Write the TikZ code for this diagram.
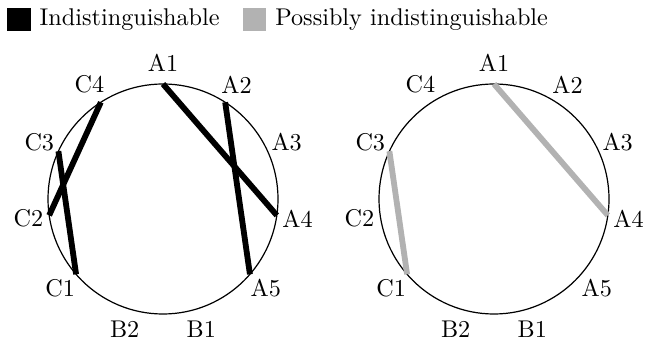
\documentclass[tikz,border=0pt]{standalone}
\usepackage{tikz}
\usetikzlibrary{positioning}
\definecolor{maybe}{gray}{0.7}
\tikzset{
  ring/.style={line width=0.5pt},
  sure/.style={line width=2.4pt, draw=black},
  unsure/.style={line width=2.4pt, draw=maybe},
  swatch/.style={minimum size=9.5pt, inner sep=0pt},
  keytext/.style={inner sep=0pt},
  ptlabel/.style={inner sep=0pt},
}
\begin{document}
\begin{tikzpicture}[x=0.413pt, y=0.413pt]
  \useasboundingbox (0,0) rectangle (650,346);
  % legend
  \node[swatch, fill=black] (key1) at (19,326) {};
  \node[keytext, right=3.4pt of key1] (txt1) {Indistinguishable};
  \node[swatch, fill=maybe, right=9.3pt of txt1] (key2) {};
  \node[keytext, right=3.4pt of key2] (txt2) {Possibly indistinguishable};
  % the two rings, eleven points each
  \foreach \side/\cx in {L/163, R/494} {
    \draw[ring] (\cx,147) circle (115);
    \foreach \lab [count=\i from 0] in {A1,A2,A3,A4,A5,B1,B2,C1,C2,C3,C4} {
      \pgfmathsetmacro{\ang}{90-360/11*\i}
      \coordinate (\side-\lab) at ([shift={(\cx,147)}]\ang:115);
      \node[ptlabel] (\side-\lab-t) at ([shift={(\cx,147)}]\ang:136) {\lab};
    }
  }
  % chords
  \draw[sure] (L-A1) -- (L-A4);
  \draw[sure] (L-A2) -- (L-A5);
  \draw[sure] (L-C4) -- (L-C2);
  \draw[sure] (L-C3) -- (L-C1);
  \draw[unsure] (R-A1) -- (R-A4);
  \draw[unsure] (R-C3) -- (R-C1);
\end{tikzpicture}
\end{document}
